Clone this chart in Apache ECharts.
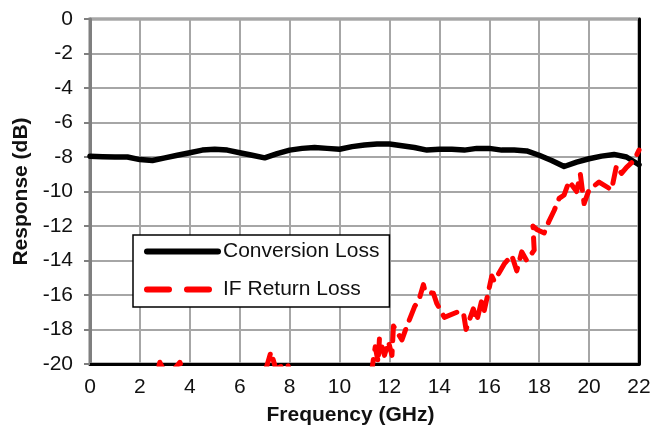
<!DOCTYPE html>
<html>
<head>
<meta charset="utf-8">
<script src="https://cdn.jsdelivr.net/npm/echarts@6/dist/echarts.min.js"></script>
<style>
html,body{margin:0;padding:0;background:#fff;}
#chart{width:657px;height:435px;}
</style>
</head>
<body>
<div id="chart"></div>
<script>
var xTicks = [0,2,4,6,8,10,12,14,16,18,20,22];
var yTicks = [0,-2,-4,-6,-8,-10,-12,-14,-16,-18,-20];

var convFreq = [0,0.5,1,1.5,2,2.5,3,3.5,4,4.5,5,5.5,6,6.5,7,7.5,8,8.5,9,9.5,10,10.5,11,11.5,12,12.5,13,13.5,14,14.5,15,15.5,16,16.5,17,17.5,18,18.5,19,19.5,20,20.5,21,21.5,22];
var convLoss = [-7.95,-7.98,-8.0,-8.0,-8.15,-8.2,-8.05,-7.9,-7.75,-7.6,-7.55,-7.6,-7.75,-7.9,-8.05,-7.8,-7.6,-7.5,-7.45,-7.5,-7.55,-7.4,-7.3,-7.25,-7.25,-7.35,-7.45,-7.6,-7.55,-7.55,-7.6,-7.5,-7.5,-7.6,-7.6,-7.65,-7.9,-8.2,-8.55,-8.3,-8.1,-7.95,-7.85,-8.0,-8.45];

var rlFreq = [0,0.8,1.6,2.4,2.8,3.1,3.6,4.2,5,6,6.7,7.05,7.25,7.45,7.9,8.4,9.2,10,10.8,11.3,
  11.43,11.55,11.6,11.8,11.96,12.1,12.16,12.5,12.7,13.0,13.2,13.36,13.43,13.76,13.9,14.2,14.7,14.96,15.07,15.36,15.5,15.7,15.8,16.1,16.2,16.6,16.9,17.1,17.3,17.5,17.8,17.75,17.9,18.2,18.4,18.6,18.8,19.0,19.2,19.5,19.65,19.8,20.0,20.4,20.9,21.1,21.3,21.5,21.8,22];
var rlVals = [-24,-26,-25,-22,-19.9,-20.8,-19.9,-22,-25,-24,-21.5,-20.3,-19.3,-20.3,-19.95,-22,-25,-24,-22,-20.3,
  -19.0,-19.9,-18.5,-19.5,-18.7,-19.5,-17.8,-18.6,-17.8,-16.7,-16.2,-15.4,-15.8,-15.9,-16.5,-17.3,-17.0,-17.0,-18.0,-16.8,-17.5,-16.3,-16.9,-14.9,-15.2,-14.2,-13.7,-14.6,-13.5,-14.0,-13.4,-12.0,-12.2,-12.4,-11.7,-11.1,-10.4,-10.2,-9.4,-10.0,-9.0,-10.7,-9.9,-9.45,-9.9,-8.5,-8.95,-8.6,-8.2,-7.6];

var convData = convFreq.map(function(f,i){return [f, convLoss[i]];});
var rlData = rlFreq.map(function(f,i){return [f, rlVals[i]];});

var chart = echarts.init(document.getElementById('chart'), null, {renderer:'canvas'});
var font = 'Liberation Sans, Arial, sans-serif';
chart.setOption({
  animation: false,
  backgroundColor: '#fff',
  grid: {left: 90, right: 18, top: 19, bottom: 71, outerBoundsMode: 'none', containLabel: false,
    show: true, borderColor: '#7f7f7f', borderWidth: 3, backgroundColor: 'transparent'},
  legend: {
    orient: 'vertical', left: 133, top: 235,
    backgroundColor: '#fff', borderColor: '#000', borderWidth: 1.5,
    padding: [6, 10, 7, 11],
    itemWidth: 71, itemHeight: 20, itemGap: 17,
    itemStyle: {opacity: 0},
    lineStyle: {width: 6},
    textStyle: {fontFamily: font, fontSize: 21, color: '#111'},
    data: [
      {name: 'Conversion Loss', lineStyle: {width: 6, color: '#000', type: 'solid', cap: 'round'}},
      {name: 'IF Return Loss', lineStyle: {width: 6, color: '#ff0000', type: [22, 18], cap: 'round'}}
    ]
  },
  xAxis: {
    type: 'value', min: 0, max: 22, interval: 2,
    name: 'Frequency (GHz)', nameLocation: 'middle', nameGap: 41,
    nameTextStyle: {fontFamily: font, fontSize: 21, fontWeight: 'bold', color: '#111', padding: [0, 28, 0, 0]},
    axisLine: {show: true, onZero: false, lineStyle: {color: '#000', width: 3}},
    axisTick: {show: false},
    axisLabel: {fontFamily: font, fontSize: 21, color: '#111', margin: 13,
      formatter: function(v){ return xTicks.indexOf(v) >= 0 ? String(v) : ''; }},
    splitLine: {show: true, lineStyle: {color: '#a6a6a6', width: 2}}
  },
  yAxis: [{
    type: 'value', min: -20, max: 0, interval: 2,
    name: 'Response (dB)', nameLocation: 'middle', nameGap: 57, nameRotate: 90,
    nameTextStyle: {fontFamily: font, fontSize: 21, fontWeight: 'bold', color: '#111'},
    axisLine: {show: true, onZero: false, lineStyle: {color: '#7f7f7f', width: 3}},
    axisTick: {show: true, length: 6, lineStyle: {color: '#7f7f7f', width: 2}},
    axisLabel: {fontFamily: font, fontSize: 21, color: '#111', margin: 17,
      formatter: function(v){ return yTicks.indexOf(v) >= 0 ? String(v) : ''; }},
    splitLine: {show: true, lineStyle: {color: '#a6a6a6', width: 2}}
  }, {
    type: 'value', min: -20, max: 0, interval: 2, position: 'right',
    axisLine: {show: true, onZero: false, lineStyle: {color: '#000', width: 3}},
    axisTick: {show: false}, axisLabel: {show: false}, splitLine: {show: false}
  }],
  series: [{
    name: 'Conversion Loss', type: 'line', data: convData,
    showSymbol: false, symbol: 'none', z: 3,
    lineStyle: {color: '#000', width: 5.5, join: 'round', cap: 'round'},
    itemStyle: {color: '#000'}
  }, {
    name: 'IF Return Loss', type: 'line', data: rlData,
    showSymbol: false, symbol: 'none', z: 4,
    lineStyle: {color: '#ff0000', width: 5, type: [16, 10], cap: 'round', join: 'round'},
    itemStyle: {color: '#ff0000'}
  }]
});
</script>
</body>
</html>
